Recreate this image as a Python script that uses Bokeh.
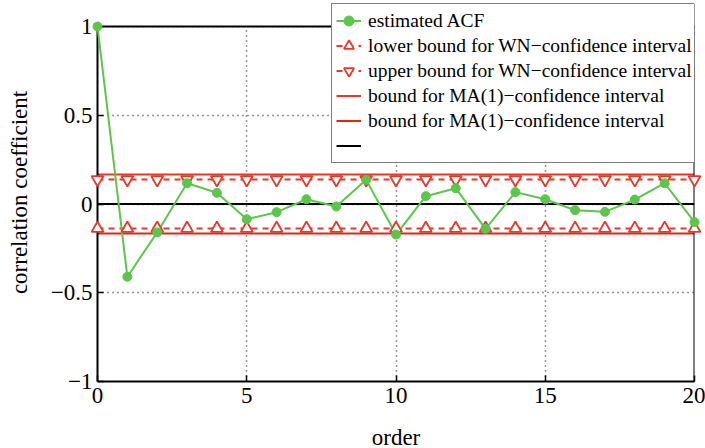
from bokeh.plotting import figure
from bokeh.models import Legend, LegendItem, FixedTicker, Span, BoxAnnotation
from bokeh.embed import file_html
from bokeh.resources import INLINE

# ---- data ----
lags = list(range(21))
acf = [1.0, -0.41, -0.16, 0.117, 0.063, -0.086, -0.046, 0.027, -0.014, 0.136,
       -0.172, 0.044, 0.089, -0.14, 0.067, 0.027, -0.035, -0.044, 0.025, 0.117, -0.102]
wn_bound = 0.138
ma_bound = 0.166
wn_lower = [-wn_bound] * len(lags)
wn_upper = [wn_bound] * len(lags)
ma_upper = [ma_bound] * len(lags)
ma_lower = [-ma_bound] * len(lags)
zero_line = [0.0] * len(lags)
x_ticks = [0, 5, 10, 15, 20]
y_ticks = [-1, -0.5, 0, 0.5, 1]
y_tick_labels = {-1: "\u22121", -0.5: "\u22120.5", 0: "0", 0.5: "0.5", 1: "1"}
x_min, x_max = 0, 20
y_min, y_max = -1, 1

FONT = "Liberation Serif"
GREEN = "#5cc64b"
RED = "#e5392b"
RED2 = "#dd2818"

# frame extends a little above y=1 so the legend can reach above the box
p = figure(frame_width=597, frame_height=378, x_range=(x_min, x_max), y_range=(y_min, 1.1296),
           output_backend="svg", toolbar_location=None,
           min_border_left=97, min_border_right=11, min_border_top=3, min_border_bottom=67)
p.background_fill_color = "white"
p.border_fill_color = "white"
p.outline_line_color = None

for ax in (p.xaxis[0], p.yaxis[0]):
    ax.axis_line_width = 2
    ax.axis_line_color = "black"
    ax.major_tick_in = 6
    ax.major_tick_out = 0
    ax.major_tick_line_width = 1.5
    ax.minor_tick_line_color = None
    ax.major_label_text_font = FONT
    ax.major_label_text_font_size = "23px"
    ax.major_label_text_color = "black"
    ax.axis_label_text_font = FONT
    ax.axis_label_text_font_size = "23px"
    ax.axis_label_text_font_style = "normal"
    ax.axis_label_text_color = "black"

p.xaxis.ticker = FixedTicker(ticks=x_ticks)
p.yaxis.ticker = FixedTicker(ticks=y_ticks)
p.yaxis.bounds = (y_min, y_max)
p.yaxis.major_label_overrides = y_tick_labels

p.xaxis.axis_label = "order"
p.yaxis.axis_label = "correlation coefficient"
p.xaxis.major_label_standoff = 6
p.xaxis.axis_label_standoff = 19
p.yaxis.major_label_standoff = 5
p.yaxis.axis_label_standoff = 16

for g in (p.xgrid[0], p.ygrid[0]):
    g.grid_line_color = "#333333"
    g.grid_line_dash = "1 4"
    g.grid_line_width = 1.5
p.xgrid.ticker = FixedTicker(ticks=x_ticks)
p.ygrid.ticker = FixedTicker(ticks=y_ticks)

# right edge of the box, white cover above the box, top edge of the box
p.add_layout(Span(location=x_max, dimension="height", line_color="black", line_width=2))
p.add_layout(BoxAnnotation(bottom=y_max, fill_color="white", fill_alpha=1, line_color=None))
p.add_layout(Span(location=y_max, dimension="width", line_color="black", line_width=2))

# series
lo_line = p.line(lags, wn_lower, line_color=RED, line_width=2, line_dash="6 5")
up_line = p.line(lags, wn_upper, line_color=RED, line_width=2, line_dash="6 5")
ma_up = p.line(lags, ma_upper, line_color=RED, line_width=2)
ma_lo = p.line(lags, ma_lower, line_color=RED2, line_width=2)
zl = p.line(lags, zero_line, line_color="black", line_width=2)

acf_line = p.line(lags, acf, line_color=GREEN, line_width=2, level="overlay")
lo_pts = p.scatter(lags, wn_lower, marker="triangle", size=12, fill_color="white",
                   line_color=RED, line_width=1.8, level="overlay")
up_pts = p.scatter(lags, wn_upper, marker="inverted_triangle", size=12, fill_color="white",
                   line_color=RED, line_width=1.8, level="overlay")
acf_pts = p.scatter(lags, acf, marker="circle", size=9, fill_color=GREEN, line_color=GREEN,
                    level="overlay")

legend = Legend(items=[
    LegendItem(label="estimated ACF", renderers=[acf_line, acf_pts]),
    LegendItem(label="lower bound for WN\u2212confidence interval", renderers=[lo_line, lo_pts]),
    LegendItem(label="upper bound for WN\u2212confidence interval", renderers=[up_line, up_pts]),
    LegendItem(label="bound for MA(1)\u2212confidence interval", renderers=[ma_up]),
    LegendItem(label="bound for MA(1)\u2212confidence interval", renderers=[ma_lo]),
    LegendItem(label=" ", renderers=[zl]),
], location=(234, 218))
legend.label_text_font = FONT
legend.label_text_font_size = "19.5px"
legend.label_text_color = "black"
legend.glyph_width = 25
legend.glyph_height = 25
legend.label_height = 25
legend.label_standoff = 7
legend.spacing = 0
legend.padding = 4
legend.margin = 0
legend.border_line_color = "black"
legend.border_line_width = 1.5
legend.background_fill_color = "white"
legend.background_fill_alpha = 1
p.add_layout(legend, "center")

open("out.html", "w").write(file_html(p, INLINE))
